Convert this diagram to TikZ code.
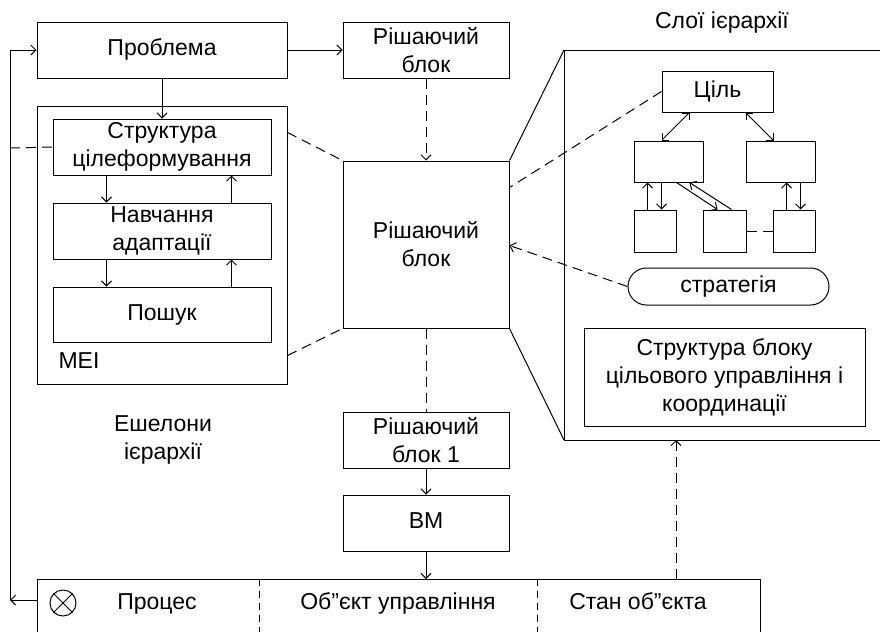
\documentclass[tikz,border=0pt]{standalone}
\usepackage{fontspec}
\setmainfont{Liberation Sans}
\usetikzlibrary{arrows.meta,calc}
\begin{document}
\begin{tikzpicture}[x=1pt,y=-1pt,
  every node/.style={font=\fontsize{23}{28}\selectfont},
  one/.style={text height=16.5pt,text depth=5pt},
  box/.style={draw,line width=1pt,inner sep=0pt,align=center},
  ln/.style={line width=1pt},
  arr/.style={line width=1pt,-{Straight Barb[length=5pt,width=10pt,line width=1pt]}},
  darr/.style={arr,dash pattern=on 10pt off 6pt},
  dbl/.style={line width=1pt,{Straight Barb[length=5pt,width=10pt,line width=1pt]}-{Straight Barb[length=5pt,width=10pt,line width=1pt]}},
  dsh/.style={line width=1pt,dash pattern=on 10pt off 6pt}]
\useasboundingbox (0,0) rectangle (880,632);
% left column
\node[box,one,minimum width=250pt,minimum height=56pt] (prob) at (162,50) {Проблема};
\node[box,minimum width=250pt,minimum height=278pt] (mei) at (162,245) {};
\node[one,anchor=west] (meil) at (55,363) {МЕІ};
\node[box,minimum width=218pt,minimum height=56pt] (sc) at (162,147) {Структура\\цілеформування};
\node[box,minimum width=218pt,minimum height=56pt] (nav) at (162,231) {Навчання\\адаптації};
\node[box,one,minimum width=218pt,minimum height=55pt] (posh) at (162,314.5) {Пошук};
\node[align=center] (esh) at (163,440) {Ешелони\\ієрархії};
% middle column
\node[box,minimum width=166pt,minimum height=56pt] (rb0) at (426,50) {Рішаючий\\блок};
\node[box,minimum width=166pt,minimum height=167pt] (rbig) at (426,244.5) {Рішаючий\\блок};
\node[box,minimum width=166pt,minimum height=56pt] (rb1) at (426,440) {Рішаючий\\блок 1};
\node[box,one,minimum width=166pt,minimum height=56pt] (vm) at (426,523) {ВМ};
% bottom box
\coordinate (bl) at (37,632);
\coordinate (btl) at (37,579);
\coordinate (btr) at (760,579);
\coordinate (br) at (760,632);
\draw[ln] (bl) -- (btl) -- (btr) -- (br);
\coordinate (d1t) at (259,579); \coordinate (d1b) at (259,632);
\coordinate (d2t) at (537,579); \coordinate (d2b) at (537,632);
\draw[dsh,dash pattern=on 7pt off 5pt] (d1t) -- (d1b);
\draw[dsh,dash pattern=on 7pt off 5pt] (d2t) -- (d2b);
\node[draw,circle,line width=1pt,minimum size=26pt,inner sep=0pt] (ot) at (63,603) {};
\draw[line width=1pt] (ot.north west) -- (ot.south east) (ot.north east) -- (ot.south west);
\node[one] (proc) at (157,604) {Процес};
\node[one] (obj) at (398,604) {Об”єкт управління};
\node[one] (stan) at (638,604) {Стан об”єкта};
% right panel
\coordinate (ptr) at (880,50);
\coordinate (ptl) at (564,50);
\coordinate (pbl) at (564,440);
\coordinate (pbr) at (880,440);
\draw[ln] (ptr) -- (ptl) -- (pbl) -- (pbr);
\node[one] (sloi) at (722,23) {Слої ієрархії};
\node[box,one,minimum width=111pt,minimum height=41pt] (cil) at (717.5,91.5) {Ціль};
\node[box,minimum width=69pt,minimum height=41pt] (m1) at (668.5,161.5) {};
\node[box,minimum width=69pt,minimum height=41pt] (m2) at (780.5,161.5) {};
\node[box,minimum width=42pt,minimum height=42pt] (b1) at (655,231) {};
\node[box,minimum width=43pt,minimum height=42pt] (b2) at (724.5,231) {};
\node[box,minimum width=42pt,minimum height=42pt] (b3) at (794,231) {};
\node[box,one,minimum width=201pt,minimum height=37pt,rounded corners=18.5pt] (strat) at (728.5,286.5) {стратегія};
\node[box,minimum width=281pt,minimum height=98pt] (stb) at (724.5,377) {Структура блоку\\цільового управління і\\координації};
% right panel connectors
\draw[dbl] ($(cil.south west)+(28,0)$) -- ($(m1.north west)+(28,0)$);
\draw[dbl] ($(cil.south east)+(-28,0)$) -- ($(m2.north east)+(-42,0)$);
\draw[arr] ($(b1.north west)+(14,0)$) -- ($(m1.south west)+(14,0)$);
\draw[arr] ($(m1.south west)+(28,0)$) -- ($(b1.north west)+(28,0)$);
\draw[arr] ($(b3.north west)+(14,0)$) -- ($(m2.south west)+(41,0)$);
\draw[arr] ($(m2.south west)+(55,0)$) -- ($(b3.north west)+(28,0)$);
\draw[arr] ($(m1.south west)+(43,0)$) -- ($(b2.north west)+(15,0)$);
\draw[arr] ($(b2.north west)+(29,0)$) -- ($(m1.south west)+(56,0)$);
\draw[dsh] (b2.east) -- (b3.west);
% left connectors
\draw[arr] (prob.south) -- (sc.north);
\draw[arr] ($(sc.south west)+(54,0)$) -- ($(nav.north west)+(54,0)$);
\draw[arr] ($(nav.north west)+(179,0)$) -- ($(sc.south west)+(179,0)$);
\draw[arr] ($(nav.south west)+(54,0)$) -- ($(posh.north west)+(54,0)$);
\draw[arr] ($(posh.north west)+(179,0)$) -- ($(nav.south west)+(179,0)$);
\coordinate (lb) at (10,600);
\coordinate (lt) at (10,50);
\coordinate (ld) at (10,148);
\draw[arr] (37,600) -- (lb);
\draw[arr] (lb) -- (lt) -- (prob.west);
\draw[dsh] (ld) -- (sc.west);
% middle connectors
\draw[arr] (prob.east) -- (rb0.west);
\draw[darr] (rb0.south) -- (rbig.north);
\draw[dsh] ($(mei.north east)+(0,27)$) -- (rbig.north west);
\draw[dsh] ($(mei.south east)+(0,-29)$) -- (rbig.south west);
\draw[dsh] (rbig.south) -- (rb1.north);
\draw[arr] (rb1.south) -- (vm.north);
\draw[arr] (vm.south) -- (426,579);
\draw[ln] (rbig.north east) -- (ptl);
\draw[ln] (rbig.south east) -- (pbl);
\draw[dsh] (cil.west) -- ($(rbig.north east)+(0,27)$);
\draw[darr] (strat.west) -- ($(rbig.north east)+(0,85)$);
\draw[darr] (676,579) -- (676,440);
\end{tikzpicture}
\end{document}
